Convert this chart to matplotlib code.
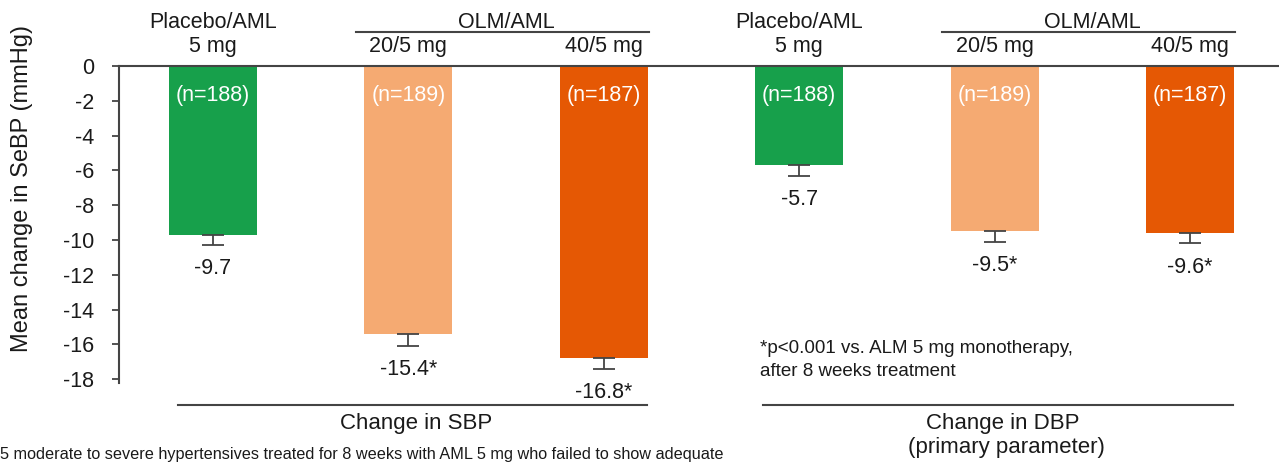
import numpy as np
import matplotlib
matplotlib.use('Agg')
import matplotlib.pyplot as plt

plt.rcParams['font.family'] = ['Liberation Sans Narrow', 'Liberation Sans', 'DejaVu Sans']
plt.rcParams['axes.unicode_minus'] = False

# Data
groups = ['Placebo/AML', 'OLM/AML', 'OLM/AML', 'Placebo/AML', 'OLM/AML', 'OLM/AML']
doses = ['5 mg', '20/5 mg', '40/5 mg', '5 mg', '20/5 mg', '40/5 mg']
mean_change = [-9.7, -15.4, -16.8, -5.7, -9.5, -9.6]
sem = [0.6, 0.7, 0.6, 0.6, 0.6, 0.6]
n_labels = ['(n=188)', '(n=189)', '(n=187)', '(n=188)', '(n=189)', '(n=187)']
value_labels = ['-9.7', '-15.4*', '-16.8*', '-5.7', '-9.5*', '-9.6*']
panel_titles = ['Change in SBP', 'Change in DBP']

colors = ['#17a04b', '#f5aa72', '#e55804', '#17a04b', '#f5aa72', '#e55804']
ink = '#1a1a1a'
line_c = '#444444'
fs = 15.5

x = np.arange(len(mean_change))

fig = plt.figure(figsize=(12.79, 4.63), dpi=100)
ax = fig.add_axes([119 / 1279, 1 - 382.7 / 463, 1160 / 1279, 316.7 / 463])

ax.bar(x, mean_change, width=0.45, color=colors, zorder=2)
ax.errorbar(x, mean_change, yerr=[sem, [0] * len(sem)], fmt='none',
            ecolor=line_c, elinewidth=1.3, capsize=8, capthick=1.3, zorder=3)

for xi, v, e, lab, nl in zip(x, mean_change, sem, value_labels, n_labels):
    ax.annotate(lab, (xi, v - e), xytext=(0, -9.5), textcoords='offset points',
                ha='center', va='top', fontsize=fs, color=ink)
    ax.text(xi, -1.67, nl, ha='center', va='center', fontsize=fs, color='white', zorder=4)

ax.set_xlim(-0.481, 5.455)
ax.set_ylim(-18.2, 0)
ax.set_yticks(np.arange(0, -19, -2))
ax.set_xticks([])
ax.tick_params(axis='y', direction='out', length=5, width=1.3, color=line_c,
               labelsize=fs, labelcolor=ink, pad=13)
for side in ['right', 'bottom']:
    ax.spines[side].set_visible(False)
for side in ['left', 'top']:
    ax.spines[side].set_color(line_c)
    ax.spines[side].set_linewidth(1.5)

ax.set_ylabel('Mean change in SeBP (mmHg)', family=['Liberation Sans', 'DejaVu Sans'],
              fontsize=17, color=ink)
ax.yaxis.set_label_coords(-0.074, 0.613)

# column headers above the plot
for xi, g, d in zip(x, groups, doses):
    if g.startswith('Placebo'):
        ax.text(xi, 2.5, g, ha='center', va='center', fontsize=fs, color=ink)
    ax.text(xi, 1.1, d, ha='center', va='center', fontsize=fs, color=ink)
for start in (1, 4):
    ax.plot([start - 0.27, start + 1.23], [1.95, 1.95], color=line_c, lw=1.5, clip_on=False)
    ax.text(start + 0.5, 2.5, groups[start], ha='center', va='center', fontsize=fs, color=ink)

# panel titles below the plot
for start, title in zip((0, 3), panel_titles):
    left = -0.18 if start == 0 else 2.815
    ax.plot([left, start + 2.22], [-19.48, -19.48], color=line_c, lw=1.5, clip_on=False)
    ax.text(start + 1.04, -20.55, title, ha='center', va='center', fontsize=fs + 0.5, color=ink)
ax.text(4.06, -21.95, '(primary parameter)', ha='center', va='center', fontsize=fs + 0.5, color=ink)

ax.text(2.8, -16.9, '*p<0.001 vs. ALM 5 mg monotherapy,\nafter 8 weeks treatment',
        ha='left', va='center', fontsize=13.5, color=ink, linespacing=1.45)

fig.text(0, 4 / 463, '5 moderate to severe hypertensives treated for 8 weeks with AML 5 mg who failed to show adequate',
         ha='left', va='baseline', fontsize=11.7, color=ink)

fig.savefig('out.png', dpi=100)
